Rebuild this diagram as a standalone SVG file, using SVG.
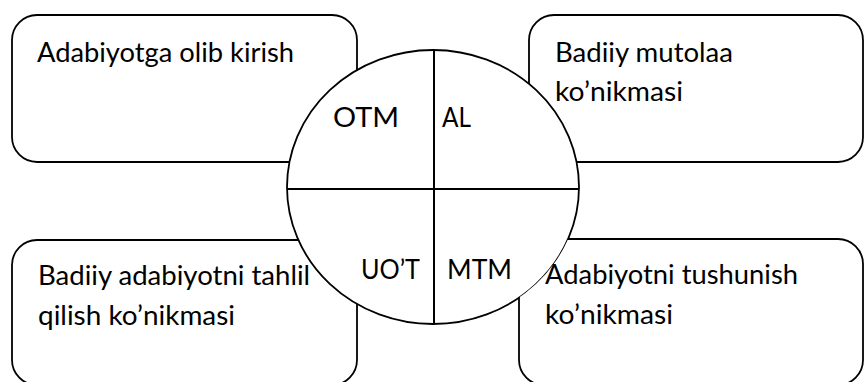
<svg xmlns="http://www.w3.org/2000/svg" width="865" height="382" viewBox="0 0 865 382">
  <style>
    .box { fill: #ffffff; stroke: #000000; stroke-width: 1.8; }
    .circ { fill: #ffffff; stroke: #000000; stroke-width: 1.8; }
    .div { stroke: #000000; stroke-width: 2; fill: none; }
    text { font-family: "Lato", "Liberation Sans", sans-serif; font-size: 26px; fill: #000000; }
  </style>
  <defs>
    <mask id="outsideCircle" maskUnits="userSpaceOnUse" x="0" y="0" width="865" height="382">
      <rect x="0" y="0" width="865" height="382" fill="#ffffff"/>
      <ellipse cx="433" cy="187" rx="146" ry="137" fill="#000000"/>
    </mask>
  </defs>
  <rect x="0" y="0" width="865" height="382" fill="#ffffff"/>

  <g id="node-adabiyotga">
    <rect class="box" x="12" y="15" width="345" height="147" rx="25" ry="25"/>
    <text x="37" y="62" textLength="257" lengthAdjust="spacingAndGlyphs">Adabiyotga olib kirish</text>
  </g>

  <g id="node-mutolaa">
    <rect class="box" x="529" y="15" width="334" height="147" rx="25" ry="25"/>
    <text x="555" y="62" textLength="178" lengthAdjust="spacingAndGlyphs">Badiiy mutolaa</text>
    <text x="555" y="101" textLength="128" lengthAdjust="spacingAndGlyphs">ko’nikmasi</text>
  </g>

  <g id="node-tahlil">
    <rect class="box" x="12" y="240" width="345" height="145" rx="25" ry="25"/>
    <text x="38" y="285" textLength="272" lengthAdjust="spacingAndGlyphs">Badiiy adabiyotni tahlil</text>
    <text x="38" y="325" textLength="197" lengthAdjust="spacingAndGlyphs">qilish ko’nikmasi</text>
  </g>

  <g id="node-circle">
    <ellipse class="circ" cx="433" cy="187" rx="146" ry="137"/>
    <line class="div" x1="287" y1="189" x2="579" y2="189"/>
    <line class="div" x1="434" y1="50" x2="434" y2="324"/>
    <text x="333" y="127" textLength="66" lengthAdjust="spacingAndGlyphs">OTM</text>
    <text x="442" y="127" textLength="29" lengthAdjust="spacingAndGlyphs">AL</text>
    <text x="361" y="279" textLength="59" lengthAdjust="spacingAndGlyphs">UO’T</text>
    <text x="447" y="279" textLength="65" lengthAdjust="spacingAndGlyphs">MTM</text>
  </g>

  <g id="node-tushunish">
    <rect class="box" x="519" y="239" width="344" height="146" rx="25" ry="25" mask="url(#outsideCircle)"/>
    <text x="545" y="284" textLength="253" lengthAdjust="spacingAndGlyphs">Adabiyotni tushunish</text>
    <text x="545" y="324" textLength="128" lengthAdjust="spacingAndGlyphs">ko’nikmasi</text>
  </g>

  <g id="connectors"></g>
</svg>
